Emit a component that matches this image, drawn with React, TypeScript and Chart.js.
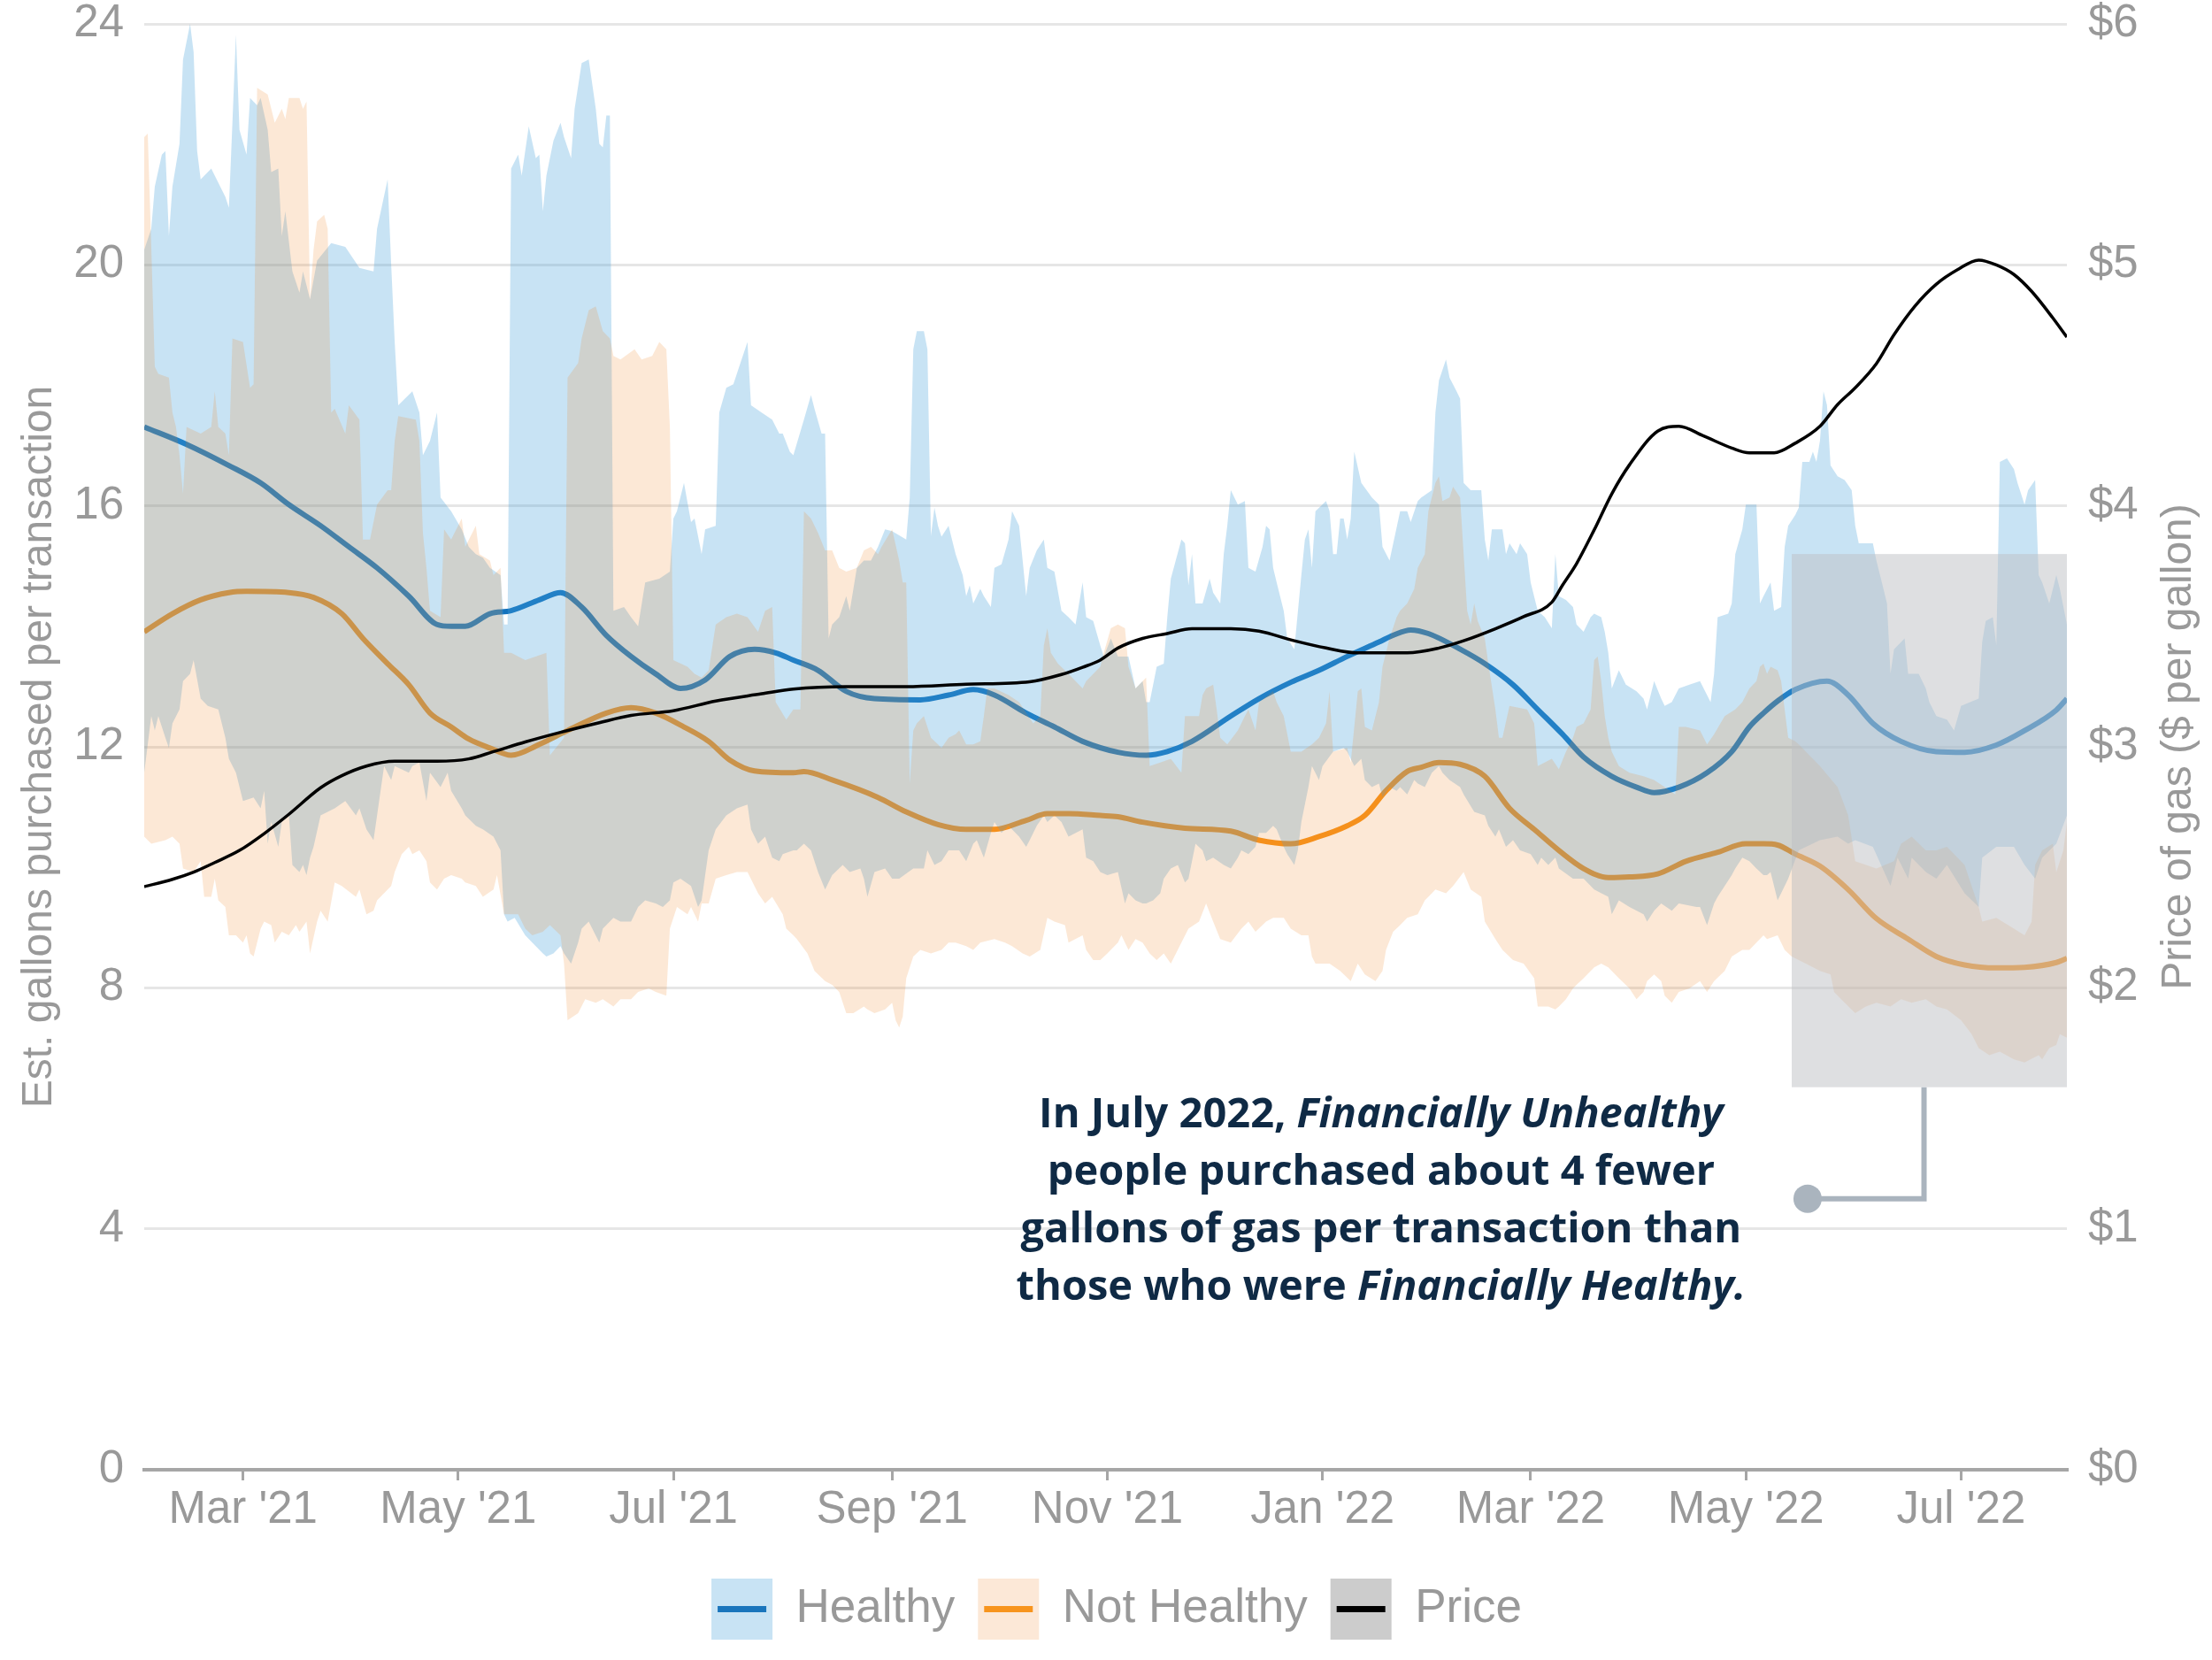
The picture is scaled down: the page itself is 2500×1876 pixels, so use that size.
import React, { useEffect, useRef } from "react";
import { Chart, registerables } from "chart.js";

Chart.register(...registerables);

// ---------- time axis (x = days since 1 Feb 2021) ----------
const START_UTC = Date.UTC(2021, 1, 1);
const dayOf = (iso: string) => Math.round((Date.parse(iso + "T00:00:00Z") - START_UTC) / 86400000);
const X_LAST = dayOf("2022-07-31");

const xTickDates = ["2021-03-01", "2021-05-01", "2021-07-01", "2021-09-01", "2021-11-01", "2022-01-01", "2022-03-01", "2022-05-01", "2022-07-01"];
const xTickLabels = ["Mar '21", "May '21", "Jul '21", "Sep '21", "Nov '21", "Jan '22", "Mar '22", "May '22", "Jul '22"];
const gallonTicks = [0, 4, 8, 12, 16, 20, 24];
const priceTicks = [0, 1, 2, 3, 4, 5, 6];

const legendLabels = ["Healthy", "Not Healthy", "Price"];
const leftTitle = "Est. gallons purchased per transaction";
const rightTitle = "Price of gas ($ per gallon)";

// ---------- series: [day, value] ----------
const healthyLine: [number, number][] = [[0,17.31],[12,17.02],[24,16.67],[33,16.38],[41,16.02],[50,15.67],[58,15.32],[66,14.97],[75,14.5],[83,14.03],[87,14.0],[91,14.0],[98,14.21],[104,14.26],[112,14.44],[118,14.56],[124,14.32],[131,13.85],[138,13.5],[145,13.21],[152,12.97],[159,13.11],[166,13.5],[173,13.62],[179,13.56],[184,13.44],[191,13.27],[199,12.92],[207,12.8],[220,12.78],[228,12.86],[235,12.95],[241,12.86],[250,12.56],[258,12.33],[266,12.09],[276,11.91],[284,11.86],[290,11.92],[297,12.09],[308,12.51],[316,12.8],[325,13.07],[333,13.27],[341,13.5],[350,13.74],[354,13.85],[359,13.94],[364,13.88],[373,13.62],[380,13.38],[388,13.03],[395,12.62],[402,12.21],[408,11.83],[416,11.51],[423,11.33],[428,11.24],[435,11.33],[443,11.57],[450,11.92],[455,12.33],[459,12.56],[463,12.76],[468,12.95],[477,13.09],[483,12.86],[490,12.39],[498,12.09],[508,11.92],[516,11.91],[525,12.03],[533,12.27],[542,12.61],[545,12.8]];

const notHealthyLine: [number, number][] = [[0,13.91],[8,14.21],[16,14.44],[24,14.56],[29,14.58],[41,14.56],[48,14.48],[56,14.21],[62,13.8],[69,13.38],[75,13.03],[81,12.56],[87,12.33],[92,12.13],[98,11.98],[104,11.86],[112,12.04],[120,12.27],[131,12.56],[138,12.65],[145,12.56],[153,12.33],[160,12.09],[166,11.78],[173,11.6],[184,11.57],[187,11.59],[195,11.45],[208,11.16],[216,10.92],[225,10.71],[233,10.63],[241,10.63],[250,10.78],[256,10.89],[262,10.89],[271,10.86],[276,10.84],[283,10.75],[295,10.65],[308,10.6],[316,10.45],[325,10.39],[333,10.51],[341,10.69],[346,10.86],[352,11.27],[358,11.59],[362,11.66],[367,11.74],[373,11.71],[380,11.51],[387,10.98],[394,10.63],[401,10.28],[408,9.98],[415,9.83],[421,9.84],[429,9.89],[437,10.1],[446,10.25],[454,10.39],[459,10.39],[463,10.37],[468,10.22],[475,10.02],[483,9.63],[491,9.15],[500,8.81],[508,8.52],[516,8.38],[525,8.33],[533,8.34],[542,8.42],[545,8.49]];

const gasPrice: [number, number][] = [[0,2.42],[8,2.45],[14,2.48],[20,2.52],[27,2.57],[34,2.64],[41,2.72],[50,2.83],[56,2.88],[63,2.92],[71,2.94],[83,2.94],[92,2.95],[99,2.98],[108,3.02],[118,3.06],[129,3.1],[138,3.13],[150,3.15],[162,3.19],[175,3.22],[184,3.24],[199,3.25],[216,3.25],[233,3.26],[251,3.27],[260,3.3],[266,3.33],[271,3.36],[276,3.41],[283,3.45],[290,3.47],[297,3.49],[308,3.49],[316,3.48],[326,3.44],[335,3.41],[344,3.39],[358,3.39],[367,3.41],[374,3.44],[383,3.49],[391,3.54],[399,3.6],[402,3.67],[406,3.76],[411,3.9],[416,4.05],[421,4.17],[429,4.31],[435,4.33],[442,4.29],[450,4.24],[455,4.22],[462,4.22],[468,4.26],[475,4.33],[480,4.42],[485,4.49],[491,4.59],[496,4.71],[502,4.83],[508,4.92],[514,4.98],[520,5.02],[525,5.0],[530,4.96],[535,4.89],[541,4.78],[545,4.7]];

const healthyUpper: [number, number][] = [[0,20.25],[2,20.6],[3,21.3],[5,21.83],[6,21.89],[7,20.48],[8,21.3],[10,22.01],[11,23.41],[13,24.0],[14,23.53],[15,21.89],[16,21.42],[19,21.6],[23,21.13],[24,20.95],[25,22.36],[26,23.82],[27,22.24],[29,21.83],[30,22.77],[32,22.65],[33,22.77],[35,22.24],[36,21.54],[38,21.6],[39,20.48],[40,20.89],[42,19.89],[44,19.54],[45,19.89],[47,19.43],[49,20.07],[53,20.36],[57,20.3],[61,19.95],[65,19.89],[66,20.6],[69,21.42],[70,20.01],[71,18.72],[72,17.67],[76,17.9],[78,17.55],[79,16.84],[81,17.08],[83,17.55],[84,16.14],[87,15.91],[90,15.61],[92,15.32],[94,15.2],[96,15.14],[98,14.97],[101,14.85],[102,14.03],[103,14.03],[104,21.6],[106,21.83],[107,21.48],[109,22.3],[111,21.77],[112,21.83],[113,20.89],[114,21.48],[116,22.06],[118,22.36],[119,22.12],[121,21.77],[122,22.59],[124,23.35],[126,23.41],[128,22.59],[129,22.01],[130,21.95],[131,22.48],[132,22.48],[133,14.26],[136,14.32],[138,14.15],[140,14.0],[142,14.73],[146,14.79],[149,14.91],[150,15.79],[151,15.91],[153,16.38],[155,15.73],[156,15.79],[158,15.2],[159,15.61],[162,15.67],[163,17.55],[165,17.96],[167,18.02],[169,18.37],[171,18.72],[172,17.67],[175,17.55],[178,17.43],[180,17.2],[181,17.2],[183,16.9],[184,16.84],[187,17.43],[189,17.84],[190,17.61],[192,17.2],[193,17.2],[194,13.8],[195,14.03],[197,14.15],[199,14.5],[200,14.26],[202,14.97],[204,15.09],[206,15.09],[208,15.32],[210,15.61],[212,15.58],[216,15.44],[217,16.14],[218,18.6],[219,18.9],[221,18.9],[222,18.6],[223,15.5],[224,15.97],[225,15.67],[226,15.49],[228,15.67],[230,15.2],[232,14.85],[233,14.5],[234,14.68],[235,14.38],[237,14.62],[238,14.5],[240,14.32],[241,14.97],[243,15.03],[245,15.44],[246,15.91],[248,15.67],[249,15.09],[250,14.5],[251,14.97],[253,15.26],[255,15.44],[256,14.97],[258,14.91],[260,14.26],[262,14.15],[264,14.03],[266,14.73],[267,14.15],[269,14.09],[271,13.68],[272,13.5],[274,13.8],[276,13.5],[279,13.5],[281,12.97],[283,13.09],[284,12.74],[285,12.74],[287,13.33],[289,13.38],[290,14.15],[291,14.79],[294,15.44],[295,15.38],[296,14.68],[297,15.2],[298,14.38],[300,14.38],[302,14.79],[303,14.56],[305,14.38],[306,15.2],[307,15.67],[308,16.26],[310,16.02],[312,16.08],[313,14.97],[315,14.91],[317,15.32],[318,15.67],[319,15.61],[320,14.97],[321,14.73],[323,14.26],[324,13.8],[326,13.62],[328,14.85],[329,15.44],[330,15.61],[331,14.97],[332,15.91],[335,16.08],[336,15.91],[337,15.2],[338,15.2],[339,15.79],[340,15.79],[341,15.44],[342,15.79],[343,16.9],[345,16.38],[348,16.14],[350,16.02],[351,15.32],[353,15.09],[356,15.91],[358,15.91],[359,15.73],[361,16.08],[362,16.14],[365,16.26],[366,17.55],[367,18.08],[369,18.43],[370,18.13],[372,17.9],[373,17.78],[374,16.38],[376,16.26],[379,16.26],[380,15.44],[381,15.09],[382,15.61],[385,15.61],[386,15.2],[387,15.38],[389,15.2],[390,15.38],[392,15.2],[393,14.73],[395,14.26],[397,14.15],[399,13.97],[400,15.2],[401,14.5],[403,14.44],[405,14.32],[406,14.03],[408,13.91],[410,14.15],[411,14.21],[413,14.15],[414,13.91],[415,13.56],[416,12.97],[418,13.27],[420,13.03],[423,12.92],[425,12.8],[426,12.62],[428,13.09],[430,12.8],[431,12.68],[433,12.74],[435,12.97],[438,13.03],[441,13.09],[444,12.74],[445,13.21],[446,14.15],[449,14.21],[450,14.38],[451,15.2],[453,15.61],[454,16.02],[457,16.02],[458,14.38],[459,14.5],[461,14.73],[462,14.26],[464,14.32],[465,15.32],[466,15.67],[468,15.85],[469,15.97],[470,16.73],[472,16.73],[473,16.9],[474,16.73],[475,17.08],[476,17.9],[477,17.67],[478,16.67],[480,16.49],[482,16.43],[484,16.26],[485,15.67],[486,15.38],[490,15.38],[491,15.09],[493,14.62],[494,14.38],[495,13.21],[496,13.62],[499,13.8],[500,13.21],[503,13.21],[505,12.97],[506,12.74],[508,12.51],[511,12.45],[513,12.27],[515,12.68],[520,12.8],[521,13.74],[522,14.09],[524,14.15],[525,13.68],[526,16.73],[528,16.79],[530,16.61],[531,16.38],[533,16.02],[534,16.26],[536,16.43],[537,14.85],[538,14.73],[540,14.38],[542,14.85],[543,14.62],[545,14.03]];

const healthyLower: [number, number][] = [[0,11.57],[2,12.51],[3,12.27],[4,12.51],[6,12.15],[7,11.98],[8,12.39],[10,12.62],[11,13.09],[13,13.21],[14,13.44],[16,12.8],[18,12.68],[21,12.62],[23,12.15],[24,11.8],[26,11.57],[28,11.1],[31,11.16],[33,10.98],[34,11.27],[35,10.39],[36,10.75],[38,10.34],[39,10.75],[41,10.86],[42,10.04],[44,9.92],[45,10.04],[46,9.87],[47,10.16],[48,10.34],[50,10.86],[54,10.98],[57,11.1],[60,10.86],[61,10.98],[63,10.63],[65,10.45],[66,10.86],[68,11.68],[70,11.45],[71,11.68],[75,11.57],[76,11.68],[78,11.74],[80,11.1],[81,11.57],[84,11.33],[86,11.57],[87,11.27],[90,10.98],[91,10.86],[94,10.69],[96,10.63],[99,10.51],[101,10.28],[102,9.22],[103,9.1],[105,9.16],[108,8.87],[110,8.75],[113,8.57],[114,8.52],[116,8.57],[118,8.69],[119,8.57],[121,8.4],[123,8.75],[124,8.98],[126,9.1],[129,8.75],[130,8.98],[133,9.16],[135,9.1],[138,9.1],[140,9.34],[142,9.45],[145,9.4],[147,9.34],[149,9.45],[150,9.75],[152,9.81],[155,9.69],[157,9.34],[158,9.45],[160,10.28],[162,10.63],[165,10.86],[168,10.98],[171,11.04],[172,10.63],[174,10.39],[176,10.51],[178,10.16],[180,10.1],[181,10.22],[184,10.28],[185,10.28],[187,10.39],[189,10.28],[191,9.92],[193,9.63],[195,9.87],[198,10.04],[200,9.92],[203,9.98],[204,9.81],[205,9.51],[207,9.92],[210,9.98],[212,9.81],[214,9.81],[218,9.98],[221,9.98],[222,10.28],[224,10.04],[226,10.1],[228,10.28],[231,10.28],[233,10.1],[235,10.39],[236,10.45],[238,10.16],[240,10.57],[241,10.75],[243,10.57],[245,10.69],[248,10.51],[250,10.34],[251,10.45],[253,10.69],[255,10.86],[256,10.75],[258,10.86],[260,10.75],[262,10.51],[266,10.63],[267,10.16],[269,10.1],[271,9.92],[273,9.87],[276,9.92],[278,9.4],[279,9.57],[281,9.45],[283,9.4],[284,9.4],[286,9.45],[288,9.57],[289,9.81],[291,9.98],[293,10.04],[295,9.75],[296,9.81],[298,10.39],[300,10.28],[301,10.1],[303,10.16],[306,10.04],[308,9.98],[310,10.16],[311,10.28],[313,10.22],[315,10.34],[316,10.57],[318,10.57],[320,10.69],[321,10.63],[323,10.34],[324,10.22],[326,10.04],[327,10.28],[328,10.75],[330,11.33],[331,11.68],[333,11.45],[334,11.68],[337,11.92],[340,11.98],[341,11.92],[343,11.68],[345,11.8],[346,11.45],[348,11.33],[350,11.39],[351,11.16],[353,11.33],[355,11.27],[356,11.33],[358,11.21],[360,11.45],[361,11.39],[363,11.33],[365,11.57],[367,11.68],[368,11.57],[370,11.45],[373,11.33],[374,11.21],[377,10.92],[380,10.86],[381,10.69],[383,10.51],[384,10.63],[386,10.34],[388,10.45],[390,10.28],[393,10.22],[395,10.04],[396,10.16],[398,10.04],[400,10.16],[401,9.98],[405,9.81],[408,9.81],[411,9.63],[415,9.51],[416,9.22],[418,9.45],[421,9.34],[425,9.22],[426,9.1],[428,9.28],[430,9.4],[433,9.28],[435,9.4],[440,9.34],[441,9.34],[443,9.04],[445,9.4],[446,9.51],[448,9.69],[450,9.87],[451,9.98],[453,10.16],[455,10.1],[457,9.98],[459,9.87],[460,9.87],[461,9.92],[463,9.45],[464,9.57],[466,9.81],[469,10.28],[475,10.45],[480,10.51],[483,10.39],[485,10.45],[490,10.34],[495,9.69],[497,10.16],[500,9.81],[501,10.16],[505,9.92],[508,9.81],[511,10.04],[516,9.57],[520,9.34],[521,10.16],[525,10.34],[530,10.34],[533,10.04],[536,9.81],[538,10.16],[542,10.39],[545,10.86]];

const notHealthyUpper: [number, number][] = [[0,22.12],[1,22.18],[2,20.3],[3,18.31],[4,18.19],[7,18.13],[8,17.55],[9,17.31],[10,16.84],[11,16.2],[12,17.31],[16,17.2],[19,17.31],[20,17.9],[21,17.31],[23,17.2],[24,16.84],[25,18.78],[28,18.72],[30,17.96],[31,18.02],[32,22.94],[35,22.83],[37,22.36],[39,22.59],[40,22.42],[41,22.77],[44,22.77],[45,22.59],[46,22.71],[47,19.43],[48,20.25],[49,20.72],[51,20.83],[52,20.6],[53,17.55],[54,17.61],[57,17.2],[58,17.67],[61,17.43],[62,15.44],[64,15.44],[66,16.02],[69,16.26],[70,16.26],[71,17.08],[72,17.49],[77,17.43],[78,17.08],[79,15.55],[80,14.97],[81,14.26],[84,14.15],[85,15.61],[87,15.44],[90,15.79],[91,15.32],[94,15.67],[95,15.2],[98,15.09],[99,14.85],[101,14.97],[102,13.56],[104,13.56],[108,13.44],[114,13.56],[115,11.86],[119,12.15],[120,18.13],[123,18.37],[124,18.78],[126,19.25],[128,19.31],[130,18.9],[132,18.78],[133,18.49],[135,18.43],[139,18.6],[141,18.43],[144,18.49],[146,18.72],[148,18.6],[149,17.31],[150,13.44],[154,13.33],[156,13.21],[158,13.15],[160,13.27],[162,14.03],[165,14.15],[168,14.21],[171,14.15],[174,13.91],[176,14.26],[178,14.32],[179,12.74],[182,12.45],[184,12.62],[186,12.62],[187,15.91],[189,15.79],[191,15.55],[193,15.26],[195,15.26],[197,14.97],[199,14.91],[202,14.97],[204,15.26],[206,15.32],[208,15.2],[209,15.32],[212,15.61],[214,15.09],[215,14.73],[216,14.73],[217,11.39],[218,12.27],[219,12.39],[221,12.51],[223,12.15],[225,12.04],[226,11.98],[228,12.15],[230,12.21],[231,12.27],[233,12.04],[235,12.04],[237,12.09],[238,12.51],[239,12.97],[241,12.97],[245,12.86],[248,12.74],[250,12.56],[252,12.39],[254,12.51],[255,13.68],[256,13.97],[257,13.56],[259,13.38],[262,13.21],[266,12.97],[267,13.09],[270,13.27],[271,13.33],[272,13.56],[274,13.97],[276,14.03],[278,13.97],[279,13.33],[281,12.97],[284,13.15],[285,11.68],[288,11.74],[291,11.8],[294,11.57],[295,12.51],[299,12.51],[300,12.86],[301,12.97],[303,13.03],[304,12.62],[305,12.15],[307,12.04],[310,12.27],[312,12.51],[313,12.62],[315,12.27],[316,12.74],[320,12.92],[321,12.74],[323,12.51],[325,11.92],[328,11.92],[331,12.04],[333,12.15],[335,12.39],[336,12.92],[337,11.92],[341,11.98],[342,11.74],[344,12.92],[345,12.97],[346,12.33],[348,12.27],[350,12.74],[351,13.33],[353,13.8],[355,14.15],[356,14.26],[358,14.38],[360,14.62],[361,14.97],[363,15.2],[364,15.91],[366,16.38],[367,16.49],[368,16.08],[370,16.14],[371,16.32],[373,16.14],[374,15.2],[375,14.26],[376,14.03],[377,14.38],[378,14.09],[380,13.8],[381,13.38],[383,12.62],[384,12.15],[385,12.15],[387,12.68],[392,12.62],[394,12.39],[395,11.68],[399,11.8],[401,11.63],[403,11.92],[405,12.15],[406,12.33],[408,12.39],[410,12.62],[411,13.44],[412,13.5],[413,13.09],[414,12.51],[415,12.15],[416,11.92],[418,11.68],[421,11.57],[425,11.51],[428,11.45],[431,11.33],[434,11.21],[435,12.33],[437,12.33],[441,12.27],[443,12.04],[445,12.21],[448,12.51],[451,12.62],[453,12.74],[455,12.97],[457,13.09],[458,13.33],[459,13.38],[460,13.21],[461,13.33],[463,13.27],[464,13.09],[466,12.15],[468,12.09],[469,12.04],[475,11.68],[480,11.33],[483,10.86],[485,10.1],[491,9.98],[496,10.1],[498,10.39],[501,10.51],[505,10.28],[508,10.28],[511,10.34],[516,10.04],[520,9.34],[521,9.1],[525,9.16],[530,8.98],[533,8.87],[535,9.1],[536,10.04],[538,10.28],[541,10.39],[542,9.92],[544,10.28],[545,10.75]];

const notHealthyLower: [number, number][] = [[0,10.51],[2,10.39],[6,10.45],[8,10.51],[10,10.39],[11,9.98],[14,9.92],[16,10.1],[17,9.51],[19,9.51],[20,9.81],[21,9.45],[23,9.34],[24,8.87],[26,8.87],[28,8.75],[29,8.87],[30,8.57],[31,8.52],[33,8.98],[34,9.1],[36,9.04],[37,8.75],[39,8.93],[41,8.87],[43,9.04],[44,8.93],[46,9.1],[47,8.57],[49,9.1],[50,9.28],[52,9.1],[54,9.75],[56,9.69],[60,9.51],[61,9.63],[63,9.22],[65,9.28],[66,9.45],[70,9.69],[71,9.92],[73,10.22],[75,10.34],[76,10.22],[78,10.28],[80,10.1],[81,9.75],[83,9.63],[85,9.81],[87,9.87],[90,9.81],[91,9.75],[94,9.69],[96,9.51],[99,9.63],[100,9.87],[102,9.22],[104,9.22],[106,9.22],[108,8.98],[110,8.87],[113,8.93],[115,9.04],[118,8.87],[119,8.4],[120,7.46],[123,7.58],[125,7.81],[128,7.75],[130,7.81],[133,7.69],[135,7.81],[138,7.81],[140,7.93],[143,7.99],[145,7.93],[148,7.87],[149,8.98],[151,9.34],[154,9.22],[155,9.34],[157,9.1],[158,9.4],[160,9.4],[162,9.81],[165,9.87],[168,9.92],[171,9.92],[174,9.57],[176,9.4],[178,9.51],[181,9.22],[182,8.98],[184,8.87],[185,8.81],[188,8.57],[190,8.28],[193,8.11],[195,8.05],[197,7.93],[199,7.58],[201,7.58],[204,7.69],[205,7.64],[207,7.58],[210,7.64],[212,7.75],[213,7.46],[214,7.34],[215,7.52],[216,8.16],[218,8.52],[220,8.63],[223,8.57],[226,8.63],[228,8.75],[230,8.75],[233,8.69],[235,8.63],[237,8.75],[241,8.81],[244,8.75],[246,8.69],[249,8.57],[251,8.52],[254,8.63],[256,9.16],[258,9.1],[261,9.04],[262,8.75],[266,8.87],[267,8.63],[269,8.46],[271,8.46],[273,8.57],[276,8.75],[277,8.87],[279,8.63],[281,8.81],[283,8.75],[285,8.57],[287,8.46],[289,8.57],[291,8.4],[294,8.75],[296,8.98],[299,9.1],[301,9.4],[303,9.1],[305,8.81],[308,8.75],[311,8.98],[313,9.1],[315,8.93],[318,9.1],[320,9.16],[323,9.16],[325,8.98],[328,8.87],[330,8.87],[331,8.52],[332,8.4],[336,8.4],[339,8.28],[342,8.11],[344,8.4],[346,8.22],[349,8.11],[351,8.28],[352,8.63],[354,8.93],[356,9.04],[358,9.16],[361,9.22],[363,9.45],[365,9.57],[366,9.63],[369,9.57],[371,9.69],[374,9.92],[376,9.63],[379,9.51],[380,9.1],[383,8.81],[385,8.63],[388,8.46],[391,8.4],[394,8.16],[395,7.69],[398,7.69],[400,7.64],[401,7.69],[403,7.81],[405,7.99],[406,8.05],[408,8.16],[411,8.34],[413,8.4],[415,8.34],[418,8.16],[421,7.99],[423,7.81],[425,7.93],[426,8.11],[428,8.22],[430,8.11],[431,7.87],[433,7.75],[435,7.93],[438,7.99],[441,8.11],[443,7.93],[445,8.11],[448,8.28],[450,8.52],[453,8.63],[455,8.63],[457,8.75],[459,8.87],[460,8.81],[463,8.87],[465,8.63],[467,8.52],[469,8.46],[471,8.4],[475,8.28],[478,8.22],[479,7.93],[481,7.81],[485,7.58],[488,7.69],[491,7.75],[495,7.69],[498,7.81],[501,7.75],[505,7.81],[508,7.69],[511,7.64],[515,7.46],[518,7.23],[520,7.0],[523,6.88],[526,6.94],[530,6.81],[533,6.76],[537,6.88],[538,6.81],[540,7.0],[542,7.05],[543,7.23],[545,7.17]];

// ---------- annotation (data units) ----------
const highlight = { x0: 467, x1: 545, y0: 6.35, y1: 15.2 };
const connector = { x: 504.5, y: 4.5, dotX: 471.5 };
const noteAnchor = { x: 350.6, y: 5.88 };
const noteLines: { text: string; italic: boolean }[][] = [
  [{ text: "In July 2022, ", italic: false }, { text: "Financially Unhealthy", italic: true }],
  [{ text: "people purchased about 4 fewer", italic: false }],
  [{ text: "gallons of gas per transaction than", italic: false }],
  [{ text: "those who were ", italic: false }, { text: "Financially Healthy.", italic: true }],
];

// ---------- styles ----------
const FONT = "'Liberation Sans', Arial, Helvetica, sans-serif";
const NOTE_FONT = "'Open Sans', 'Noto Sans', sans-serif";
const GREY_TEXT = "#999999";
const BLUE = "#1272bd";
const ORANGE = "#f7941d";
const BLUE_FILL = "rgba(72,162,218,0.3)";
const ORANGE_FILL = "rgba(237,125,30,0.18)";
const legendFills = ["#c8e3f4", "#fce8d7", "#cccccc"];
const legendLines = ["#1a75bc", ORANGE, "#000000"];

const pts = (a: [number, number][]) => a.map(([x, y]) => ({ x, y }));

const overlayPlugin = {
  id: "overlays",
  afterDraw(chart: any) {
    const { ctx, chartArea, scales } = chart;
    const xs = scales.x;
    const ys = scales.y;
    ctx.save();

    // highlight rectangle
    const rx0 = xs.getPixelForValue(highlight.x0);
    const rx1 = xs.getPixelForValue(highlight.x1);
    const ry0 = ys.getPixelForValue(highlight.y1);
    const ry1 = ys.getPixelForValue(highlight.y0);
    ctx.fillStyle = "rgba(190,192,196,0.5)";
    ctx.fillRect(rx0, ry0, rx1 - rx0, ry1 - ry0);

    // connector
    const cx = xs.getPixelForValue(connector.x);
    const cy = ys.getPixelForValue(connector.y);
    const dx = xs.getPixelForValue(connector.dotX);
    ctx.strokeStyle = "#aab4be";
    ctx.lineWidth = 6;
    ctx.lineJoin = "miter";
    ctx.beginPath();
    ctx.moveTo(cx, ry1);
    ctx.lineTo(cx, cy);
    ctx.lineTo(dx, cy);
    ctx.stroke();
    ctx.fillStyle = "#aab4be";
    ctx.beginPath();
    ctx.arc(dx, cy, 16, 0, Math.PI * 2);
    ctx.fill();

    // annotation text
    const ax = xs.getPixelForValue(noteAnchor.x);
    const ay = ys.getPixelForValue(noteAnchor.y);
    ctx.fillStyle = "#0f2a45";
    ctx.textBaseline = "middle";
    ctx.textAlign = "left";
    noteLines.forEach((segs, i) => {
      let total = 0;
      const widths = segs.map((s) => {
        ctx.font = `${s.italic ? "italic " : ""}bold 47px ${NOTE_FONT}`;
        const w = ctx.measureText(s.text).width;
        total += w;
        return w;
      });
      let x = ax - total / 2;
      segs.forEach((s, j) => {
        ctx.font = `${s.italic ? "italic " : ""}bold 47px ${NOTE_FONT}`;
        ctx.fillText(s.text, x, ay + i * 65);
        x += widths[j];
      });
    });

    // axis titles (both read bottom-to-top)
    const midY = (chartArea.top + chartArea.bottom) / 2;
    ctx.fillStyle = GREY_TEXT;
    ctx.font = `48px ${FONT}`;
    ctx.textAlign = "center";
    ctx.textBaseline = "middle";
    ctx.save();
    ctx.translate(chartArea.left - 118, midY);
    ctx.rotate(-Math.PI / 2);
    ctx.fillText(leftTitle, 0, 0);
    ctx.restore();
    ctx.save();
    ctx.translate(chartArea.right + 127, midY);
    ctx.rotate(-Math.PI / 2);
    ctx.fillText(rightTitle, 0, 0);
    ctx.restore();

    // legend lines inside legend boxes
    const boxes = chart.legend && chart.legend.legendHitBoxes;
    if (boxes) {
      boxes.forEach((b: any, i: number) => {
        const y = b.top + 69 / 2;
        ctx.strokeStyle = legendLines[i];
        ctx.lineWidth = 7;
        ctx.lineCap = "butt";
        ctx.beginPath();
        ctx.moveTo(b.left + 7, y);
        ctx.lineTo(b.left + 62, y);
        ctx.stroke();
      });
    }
    ctx.restore();
  },
};

export default function App() {
  const canvasRef = useRef<HTMLCanvasElement | null>(null);

  useEffect(() => {
    if (!canvasRef.current) return;
    const tickDays = xTickDates.map(dayOf);
    const chart = new Chart(canvasRef.current, {
      type: "line",
      data: {
        datasets: [
          { label: "Price", data: pts(gasPrice), yAxisID: "y1", borderColor: "#000000", borderWidth: 3.5, pointRadius: 0, cubicInterpolationMode: "monotone", fill: false, order: 1 },
          { label: "Healthy", data: pts(healthyLine), yAxisID: "y", borderColor: BLUE, borderWidth: 6, pointRadius: 0, cubicInterpolationMode: "monotone", fill: false, order: 10 },
          { label: "Not Healthy", data: pts(notHealthyLine), yAxisID: "y", borderColor: ORANGE, borderWidth: 6, pointRadius: 0, cubicInterpolationMode: "monotone", fill: false, order: 9 },
          { label: "Healthy low", data: pts(healthyLower), yAxisID: "y", borderColor: "rgba(0,0,0,0)", borderWidth: 0, pointRadius: 0, tension: 0, fill: false, order: 7 },
          { label: "Healthy high", data: pts(healthyUpper), yAxisID: "y", borderColor: "rgba(0,0,0,0)", borderWidth: 0, pointRadius: 0, tension: 0, fill: "-1", backgroundColor: BLUE_FILL, order: 6 },
          { label: "Not Healthy low", data: pts(notHealthyLower), yAxisID: "y", borderColor: "rgba(0,0,0,0)", borderWidth: 0, pointRadius: 0, tension: 0, fill: false, order: 5 },
          { label: "Not Healthy high", data: pts(notHealthyUpper), yAxisID: "y", borderColor: "rgba(0,0,0,0)", borderWidth: 0, pointRadius: 0, tension: 0, fill: "-1", backgroundColor: ORANGE_FILL, order: 4 },
        ] as any,
      },
      options: {
        animation: false,
        responsive: true,
        maintainAspectRatio: false,
        devicePixelRatio: 1,
        events: [],
        layout: { padding: { top: 27, left: 24, right: 0, bottom: 13 } },
        plugins: {
          tooltip: { enabled: false },
          title: { display: false },
          legend: {
            position: "bottom",
            onClick: () => {},
            labels: {
              boxWidth: 69,
              boxHeight: 69,
              padding: 26,
              color: GREY_TEXT,
              font: { size: 53, family: FONT },
              generateLabels: () =>
                legendLabels.map((t, i) => ({
                  text: t,
                  fillStyle: legendFills[i],
                  strokeStyle: "rgba(0,0,0,0)",
                  lineWidth: 0,
                  hidden: false,
                  datasetIndex: i,
                  fontColor: GREY_TEXT,
                })),
            },
          },
        },
        scales: {
          x: {
            type: "linear",
            min: 0,
            max: X_LAST,
            afterBuildTicks: (s: any) => {
              s.ticks = tickDays.map((v) => ({ value: v }));
            },
            afterFit: (s: any) => {
              s.height = 97;
            },
            ticks: {
              autoSkip: false,
              maxRotation: 0,
              minRotation: 0,
              padding: 3,
              color: GREY_TEXT,
              font: { size: 51, family: FONT },
              callback: (_v: any, i: number) => xTickLabels[i],
            },
            grid: { drawOnChartArea: false, drawTicks: true, tickLength: 12, color: "#a6a6a6", lineWidth: 3 },
            border: { display: true, color: "#a6a6a6", width: 4 },
          },
          y: {
            type: "linear",
            position: "left",
            min: 0,
            max: 24,
            afterBuildTicks: (s: any) => {
              s.ticks = gallonTicks.map((v) => ({ value: v }));
            },
            afterFit: (s: any) => {
              s.width = 139;
              s.paddingTop = 0;
              s.paddingBottom = 0;
            },
            ticks: { padding: 23, color: GREY_TEXT, font: { size: 51, family: FONT, lineHeight: 1 } },
            grid: { color: "#e6e6e6", lineWidth: 3, drawTicks: false },
            border: { display: false },
          },
          y1: {
            type: "linear",
            position: "right",
            min: 0,
            max: 6,
            afterBuildTicks: (s: any) => {
              s.ticks = priceTicks.map((v) => ({ value: v }));
            },
            afterFit: (s: any) => {
              s.width = 164;
              s.paddingTop = 0;
              s.paddingBottom = 0;
            },
            ticks: { padding: 24, color: GREY_TEXT, font: { size: 51, family: FONT, lineHeight: 1 }, callback: (v: any) => "$" + v },
            grid: { display: false, drawTicks: false },
            border: { display: false },
          },
        },
      } as any,
      plugins: [overlayPlugin],
    });
    return () => chart.destroy();
  }, []);

  return (
    <div style={{ position: "absolute", left: 0, top: 0, width: 2500, height: 1876, background: "#ffffff" }}>
      <canvas ref={canvasRef} />
    </div>
  );
}
